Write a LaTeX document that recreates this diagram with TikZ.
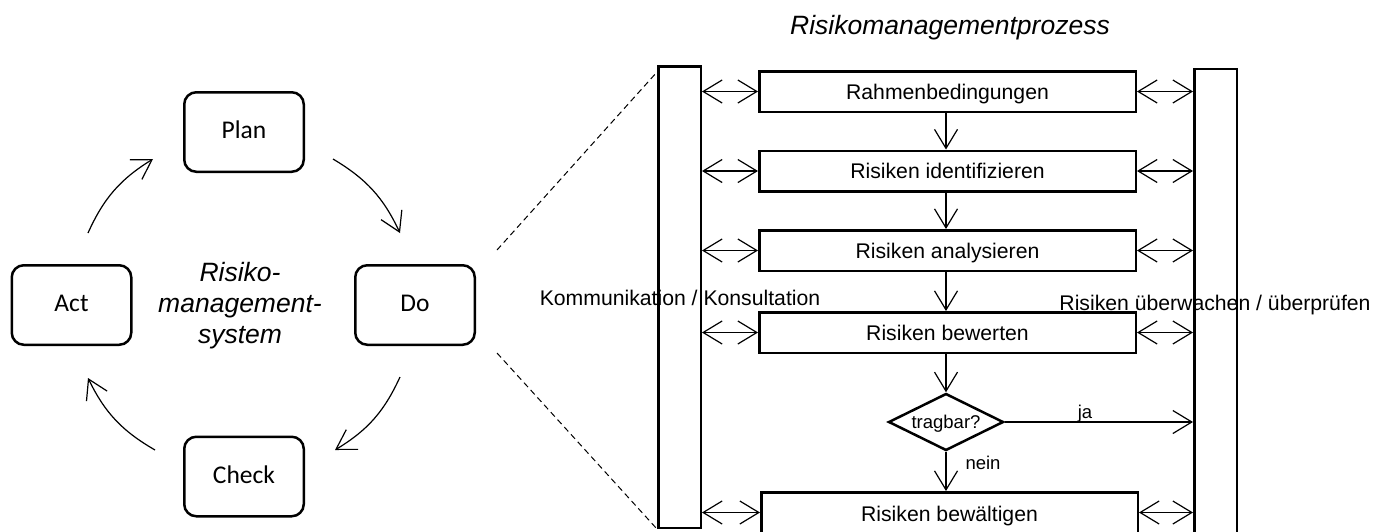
\documentclass[tikz,border=0pt]{standalone}
\usepackage{fontspec}
\setmainfont{Liberation Sans}
\newfontfamily\calib{Carlito}
\usetikzlibrary{arrows.meta,shapes.geometric}
\begin{document}
\begin{tikzpicture}[x=1pt,y=-1pt,
  pdca/.style={draw, line width=2.5pt, rounded corners=12pt, minimum width=119.5pt, minimum height=79.5pt, inner sep=0pt, text height=13pt, text depth=0pt, font=\calib\fontsize{25.5}{30}\selectfont},
  procbox/.style={draw, line width=2.5pt, minimum width=376.5pt, minimum height=40.5pt, inner sep=0pt},
  lbl/.style={inner sep=0pt, text height=15.2pt, text depth=0pt, font=\fontsize{21.2}{25}\selectfont},
  small/.style={inner sep=0pt, text height=13.3pt, text depth=0pt, font=\fontsize{18.5}{22}\selectfont},
  barbox/.style={draw, line width=2.5pt, minimum width=42.5pt, inner sep=0pt},
  arr/.style={-{Straight Barb[length=19pt,width=23pt,line width=1.2pt]}, line width=1.2pt},
  darr/.style={{Straight Barb[length=19pt,width=23pt,line width=1.2pt]}-{Straight Barb[length=19pt,width=23pt,line width=1.2pt]}, line width=1.2pt},
  zoomline/.style={line width=1pt, dash pattern=on 6pt off 4pt}
]
\useasboundingbox (0,0) rectangle (1374,531);
\clip (0,0) rectangle (1374,531);

% PDCA cycle
\node[pdca] (plan)  at (244,132)   {Plan};
\node[pdca] (act)   at (71.5,305)  {Act};
\node[pdca] (do)    at (415,305)   {Do};
\node[pdca] (check) at (244,476.5) {Check};
\node[inner sep=0pt, align=center, font=\itshape\fontsize{26.5}{31}\selectfont] (rms) at (240,306) {Risiko-\\management-\\system};

\coordinate (p1) at (333,159);
\coordinate (p2) at (400,233);
\coordinate (d1) at (400,377);
\coordinate (d2) at (335,450);
\coordinate (c1) at (155,450);
\coordinate (c2) at (88,378);
\coordinate (a1) at (88,233);
\coordinate (a2) at (153,159);
\draw[arr] (p1) to[bend left=17] (p2);
\draw[arr] (d1) to[bend left=17] (d2);
\draw[arr] (c1) to[bend left=17] (c2);
\draw[arr] (a1) to[bend left=17] (a2);

% title
\node[inner sep=0pt, text height=19pt, text depth=0pt, font=\itshape\fontsize{26.5}{31}\selectfont] (title) at (950,25) {Risikomanagementprozess};

% bars
\node[barbox, minimum height=461.5pt] (lbar) at (679.5,297) {};
\node[barbox, minimum height=476pt] (rbar) at (1215.5,307) {};

% zoom lines
\coordinate (z1) at (497,250);
\coordinate (z2) at (497,353);
\draw[zoomline] (z1) -- ([yshift=-7pt]lbar.north west);
\draw[zoomline] (z2) -- (lbar.south west);

% process boxes
\node[procbox] (r1) at (947.5,91.5) {};
\node[procbox] (r2) at (947.5,171)  {};
\node[procbox] (r3) at (947.5,250.5) {};
\node[procbox] (r4) at (947.5,332.5) {};
\node[procbox] (r5) at (949.5,512.5) {};
\node[lbl] (t1) at (r1) {Rahmenbedingungen};
\node[lbl] (t2) at (r2) {Risiken identifizieren};
\node[lbl] (t3) at (r3) {Risiken analysieren};
\node[lbl] (t4) at (r4) {Risiken bewerten};
\node[lbl] (t5) at (949.5,514) {Risiken bewältigen};
\node[draw, line width=2.5pt, shape=diamond, aspect=2, minimum width=115pt, minimum height=57pt, inner sep=0pt] (dec) at (946,422) {};
\node[small] (tq) at (dec) {tragbar?};

% vertical arrows
\draw[arr] (r1.south -| dec.north) -- (r2.north -| dec.north);
\draw[arr] (r2.south -| dec.north) -- (r3.north -| dec.north);
\draw[arr] (r3.south -| dec.north) -- (r4.north -| dec.north);
\draw[arr] (r4.south -| dec.north) -- (dec.north);
\draw[arr] (dec.south) -- (r5.north -| dec.south);
\draw[arr] (dec.east) -- (rbar.west |- dec.east);
\node[small] (nein) at (983,463) {nein};
\node[small] (ja) at (1085,412) {ja};

% double arrows
\foreach \b in {r1,r2,r3,r4,r5}{
  \draw[darr] (lbar.east |- \b.west) -- (\b.west);
  \draw[darr] (\b.east) -- (rbar.west |- \b.east);
}

% bar labels
\node[lbl] (komm) at (680,298) {Kommunikation / Konsultation};
\node[lbl] (ueber) at (1215,303) {Risiken überwachen / überprüfen};
\end{tikzpicture}
\end{document}
